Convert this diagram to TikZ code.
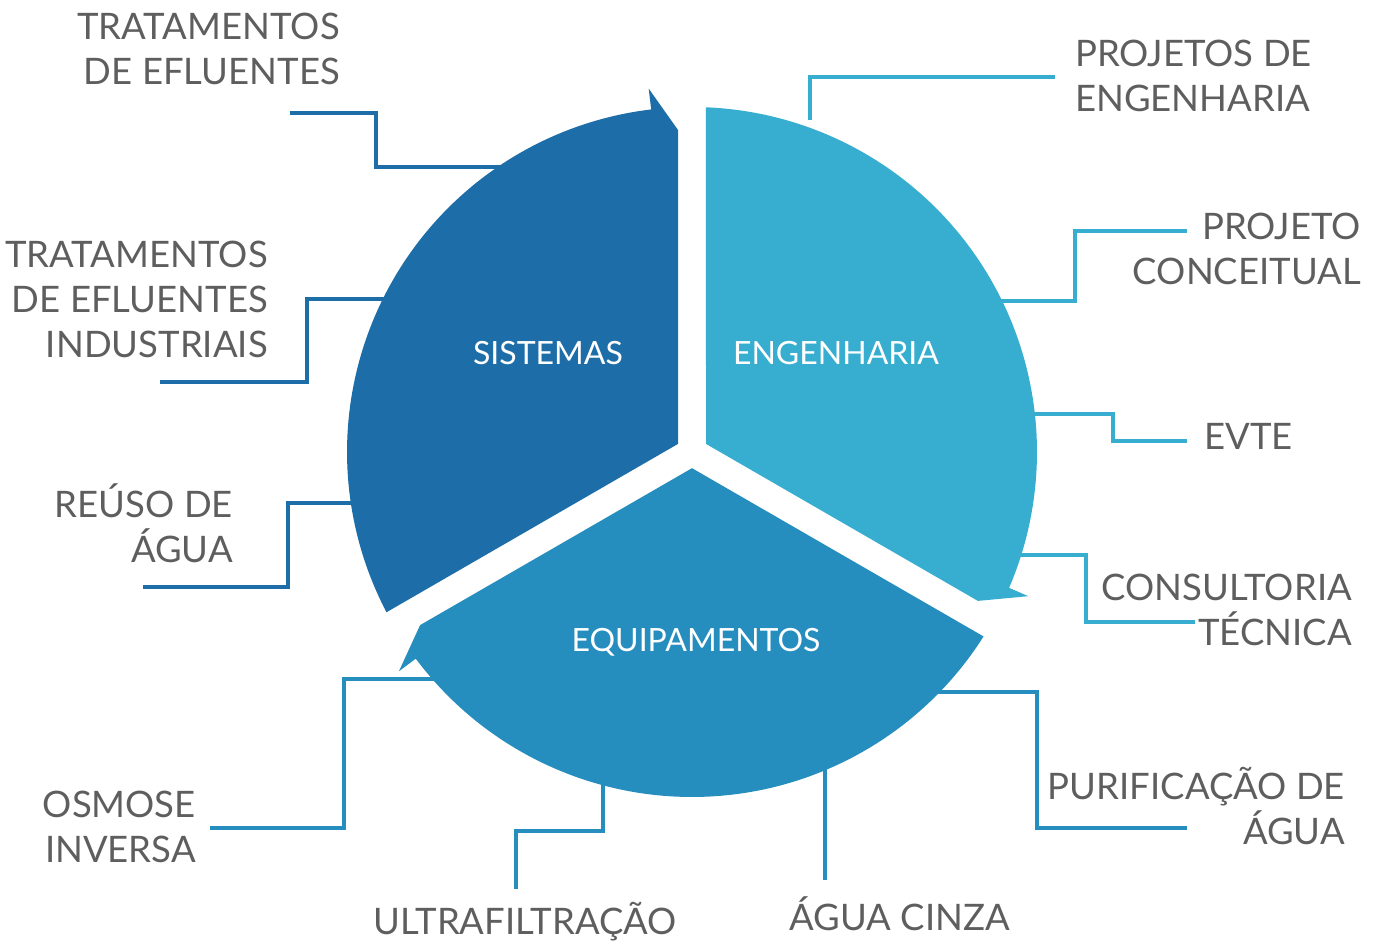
\documentclass[tikz,border=0pt]{standalone}
\usepackage{fontspec}
\setmainfont{Lato}
\usetikzlibrary{positioning}
\definecolor{sistcol}{rgb}{0.114,0.431,0.659}
\definecolor{engcol}{rgb}{0.216,0.682,0.812}
\definecolor{equipcol}{rgb}{0.149,0.557,0.745}
\definecolor{textcol}{rgb}{0.37,0.37,0.37}
\def\labelfont{\fontsize{36.5bp}{45bp}\selectfont}
\def\segfont{\fontsize{32bp}{36bp}\selectfont}

\begin{document}
\begin{tikzpicture}[line join=miter,
    lbl/.style={inner sep=0pt,text=textcol,font=\labelfont},
    seglbl/.style={inner sep=0pt,text=white,font=\segfont},
    sistline/.style={draw=sistcol,line width=3.5bp},
    engline/.style={draw=engcol,line width=3.5bp},
    equipline/.style={draw=equipcol,line width=3.5bp}]
      \useasboundingbox (0bp,0bp) rectangle (1379bp,942bp);
      %%
      \coordinate (O) at (692bp,490bp);
      \coordinate (eff-in) at (505bp,775bp);
      \coordinate (eff-out) at (290bp,829bp);
      \coordinate (ind-in) at (390bp,643bp);
      \coordinate (ind-out) at (160bp,560bp);
      \coordinate (reu-in) at (358bp,439bp);
      \coordinate (reu-out) at (143bp,355bp);
      \coordinate (osm-in) at (440bp,263bp);
      \coordinate (osm-out) at (210bp,114bp);
      \coordinate (ult-in) at (603bp,165bp);
      \coordinate (ult-out) at (516bp,53bp);
      \coordinate (cin-in) at (825bp,180bp);
      \coordinate (cin-out) at (825bp,62bp);
      \coordinate (pur-in) at (932bp,250bp);
      \coordinate (pur-out) at (1187bp,114bp);
      \coordinate (con-in) at (1014bp,387bp);
      \coordinate (con-out) at (1195bp,320bp);
      \coordinate (evt-in) at (1028bp,528bp);
      \coordinate (evt-out) at (1187bp,501bp);
      \coordinate (pco-in) at (995bp,641bp);
      \coordinate (pco-out) at (1187bp,711bp);
      \coordinate (peng-in) at (810bp,822bp);
      \coordinate (peng-out) at (1055bp,865bp);
      %%
      \draw [sistline] (eff-in) -- ++(-129bp,0bp) |- (eff-out);
      \draw [sistline] (ind-in) -- ++(-83bp,0bp) |- (ind-out);
      \draw [sistline] (reu-in) -- ++(-70bp,0bp) |- (reu-out);
      \draw [equipline] (osm-in) -- ++(-96bp,0bp) |- (osm-out);
      \draw [equipline] (ult-in) -- ++(0bp,-54bp) -| (ult-out);
      \draw [equipline] (cin-in) -- (cin-out);
      \draw [equipline] (pur-in) -- ++(105bp,0bp) |- (pur-out);
      \draw [engline] (con-in) -- ++(72bp,0bp) |- (con-out);
      \draw [engline] (evt-in) -- ++(85bp,0bp) |- (evt-out);
      \draw [engline] (pco-in) -- ++(80bp,0bp) |- (pco-out);
      \draw [engline] (peng-in) |- (peng-out);
      %%
      \begin{scope}[shift={(O)}]
        \fill [sistcol] (-14bp,8.08bp) -- (207.68:345bp)
          arc[start angle=207.68,end angle=96.8,radius=345bp]
          -- (96.8:366bp) -- (-14bp,322bp) -- cycle;
        \fill [engcol] (14bp,8.08bp) -- (87.68:345bp)
          arc[start angle=87.68,end angle=-23.2,radius=345bp]
          -- (-23.2:366bp) -- (285.9bp,-148.9bp) -- cycle;
        \fill [equipcol] (0bp,-16.17bp) -- (-32.32:345bp)
          arc[start angle=-32.32,end angle=-143.2,radius=345bp]
          -- (-143.2:366bp) -- (-271.9bp,-173.1bp) -- cycle;
      \end{scope}
      %%
      \node (sist) at (548bp,589bp) [seglbl] {SISTEMAS};
      \node (eng) at (836bp,589bp) [seglbl] {ENGENHARIA};
      \node (equip) at (696bp,300bp) [seglbl] {EQUIPAMENTOS};
      %%
      \node (eff) at (340bp,857bp) [lbl,anchor=base east,align=right] {TRATAMENTOS\\DE EFLUENTES};
      \node (ind) at (268bp,584bp) [lbl,anchor=base east,align=right] {TRATAMENTOS\\DE EFLUENTES\\INDUSTRIAIS};
      \node (reu) at (233bp,379bp) [lbl,anchor=base east,align=right] {REÚSO DE\\ÁGUA};
      \node (osm) at (196bp,79bp) [lbl,anchor=base east,align=right] {OSMOSE\\INVERSA};
      \node (ult) at (677bp,8bp) [lbl,anchor=base east] {ULTRAFILTRAÇÃO};
      \node (cin) at (1010bp,12bp) [lbl,anchor=base east] {ÁGUA CINZA};
      \node (pur) at (1345bp,97bp) [lbl,anchor=base east,align=right] {PURIFICAÇÃO DE\\ÁGUA};
      \node (con) at (1352bp,296bp) [lbl,anchor=base east,align=right] {CONSULTORIA\\TÉCNICA};
      \node (evt) at (1204bp,492bp) [lbl,anchor=base west] {EVTE};
      \node (pco) at (1361bp,657bp) [lbl,anchor=base east,align=right] {PROJETO\\CONCEITUAL};
      \node (peng) at (1075bp,830bp) [lbl,anchor=base west,align=left] {PROJETOS DE\\ENGENHARIA};
\end{tikzpicture}
\end{document}
